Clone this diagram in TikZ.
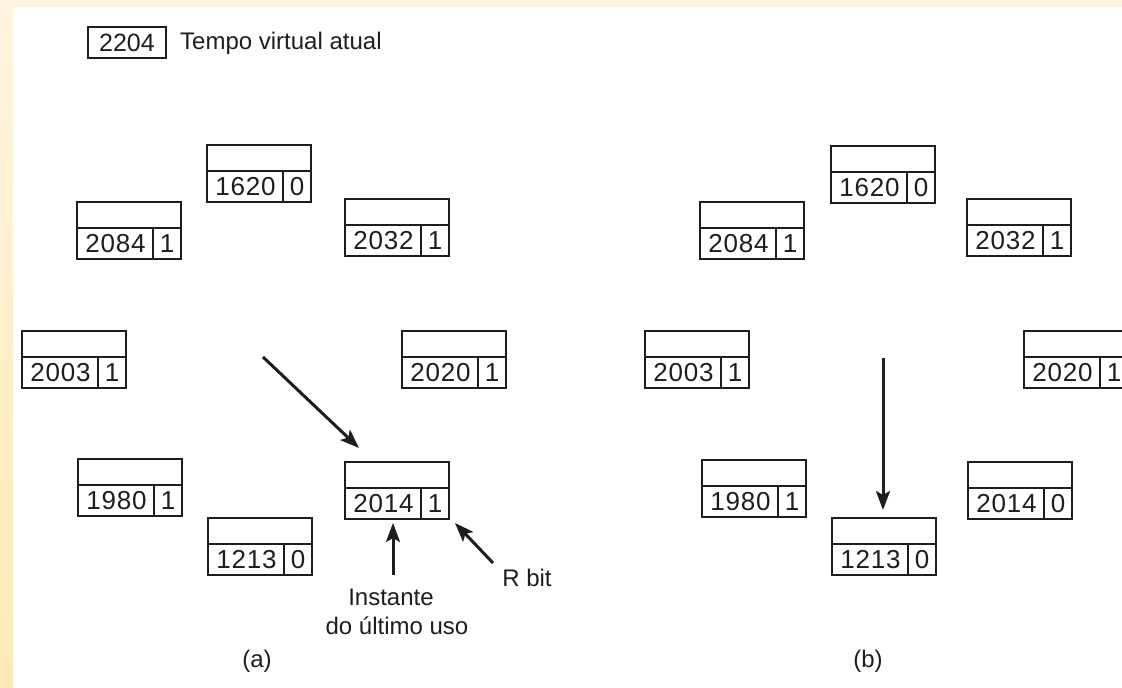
\documentclass[tikz,border=0pt]{standalone}
\usepackage{fontspec}
\setmainfont{Liberation Sans}
\newfontfamily\cellfont[LetterSpace=3]{Liberation Sans}
\usetikzlibrary{arrows.meta}

% one page-table entry: name, top-left x, top-left y, time of last use, R bit
\newcommand\pageentry[5]{%
  \node[entrybox, anchor=north west] (#1) at (#2,#3) {};
  \draw[entryline] ([yshift=-26pt]#1.north west) -- ([yshift=-26pt]#1.north east);
  \draw[entryline] ([xshift=76pt,yshift=-26pt]#1.north west) -- ([xshift=76pt]#1.south west);
  \node[numtext] (#1-time) at ([xshift=38.5pt,yshift=15.5pt]#1.south west) {#4};
  \node[numtext] (#1-bit) at ([xshift=90pt,yshift=15.5pt]#1.south west) {#5};
}

\definecolor{inkc}{HTML}{1E1E1E}
\definecolor{edgetop}{HTML}{FFF5DF}
\definecolor{edgebot}{HTML}{FFEAB6}

\begin{document}
\begin{tikzpicture}[x=1pt,y=-1pt,
  entrybox/.style={draw=inkc, line width=2.2pt, minimum width=104pt,
    minimum height=57pt, inner sep=0pt, outer sep=0pt},
  entryline/.style={draw=inkc, line width=2.2pt},
  numtext/.style={inner sep=0pt, text=inkc, font=\cellfont\fontsize{26}{30}\selectfont},
  labeltext/.style={inner sep=0pt, text=inkc, font=\fontsize{24}{29}\selectfont},
  pointer/.style={draw=inkc, line width=3pt,
    -{Stealth[length=19pt,width=14pt,inset=4pt]}}]

\useasboundingbox (0,0) rectangle (1122,688);
\clip (0,0) rectangle (1122,688);

% page background with the tinted edges
\fill[white] (0,0) rectangle (1122,688);
\fill[edgetop] (0,0) rectangle (1122,7);
\shade[top color=edgetop, bottom color=edgebot] (0,0) rectangle (13,688);

% current virtual time
\node[draw=inkc, line width=2.2pt, minimum width=78pt, minimum height=31pt,
  inner sep=0pt, outer sep=0pt, anchor=north west,
  font=\fontsize{25}{30}\selectfont, text=inkc] (vt) at (88,27) {2204};
\node[labeltext, anchor=west] (vtlabel) at (180,43) {Tempo virtual atual};

% (a)
\pageentry{a1620}{207}{145}{1620}{0}
\pageentry{a2084}{77}{202}{2084}{1}
\pageentry{a2032}{345}{199}{2032}{1}
\pageentry{a2003}{22}{331}{2003}{1}
\pageentry{a2020}{402}{331}{2020}{1}
\pageentry{a1980}{78}{459}{1980}{1}
\pageentry{a1213}{208}{518}{1213}{0}
\pageentry{a2014}{345}{462}{2014}{1}

\coordinate (ahandS) at (263,357);
\coordinate (ahandE) at (359,448);
\draw[pointer] (ahandS) -- (ahandE);

\node[labeltext] (inst1) at (391,597) {Instante};
\node[labeltext] (inst2) at (397,626) {do último uso};
\node[labeltext] (rbit) at (527,578) {R bit};
\coordinate (instA) at (393,575);
\coordinate (instB) at (393,523);
\draw[pointer] (instA) -- (instB);
\coordinate (rbitA) at (493,563);
\draw[pointer] (rbitA) -- ([xshift=6pt,yshift=-4pt]a2014.south east);

\node[labeltext] (capa) at (257,661) {(a)};

% (b)
\pageentry{b1620}{831}{146}{1620}{0}
\pageentry{b2084}{700}{202}{2084}{1}
\pageentry{b2032}{967}{199}{2032}{1}
\pageentry{b2003}{645}{331}{2003}{1}
\pageentry{b2020}{1024}{331}{2020}{1}
\pageentry{b1980}{702}{460}{1980}{1}
\pageentry{b1213}{832}{518}{1213}{0}
\pageentry{b2014}{968}{462}{2014}{0}

\coordinate (bhandS) at (883,358);
\draw[pointer] (bhandS) -- ([yshift=8pt]b1213.north west -| bhandS);

\node[labeltext] (capb) at (868,661) {(b)};
\end{tikzpicture}
\end{document}
